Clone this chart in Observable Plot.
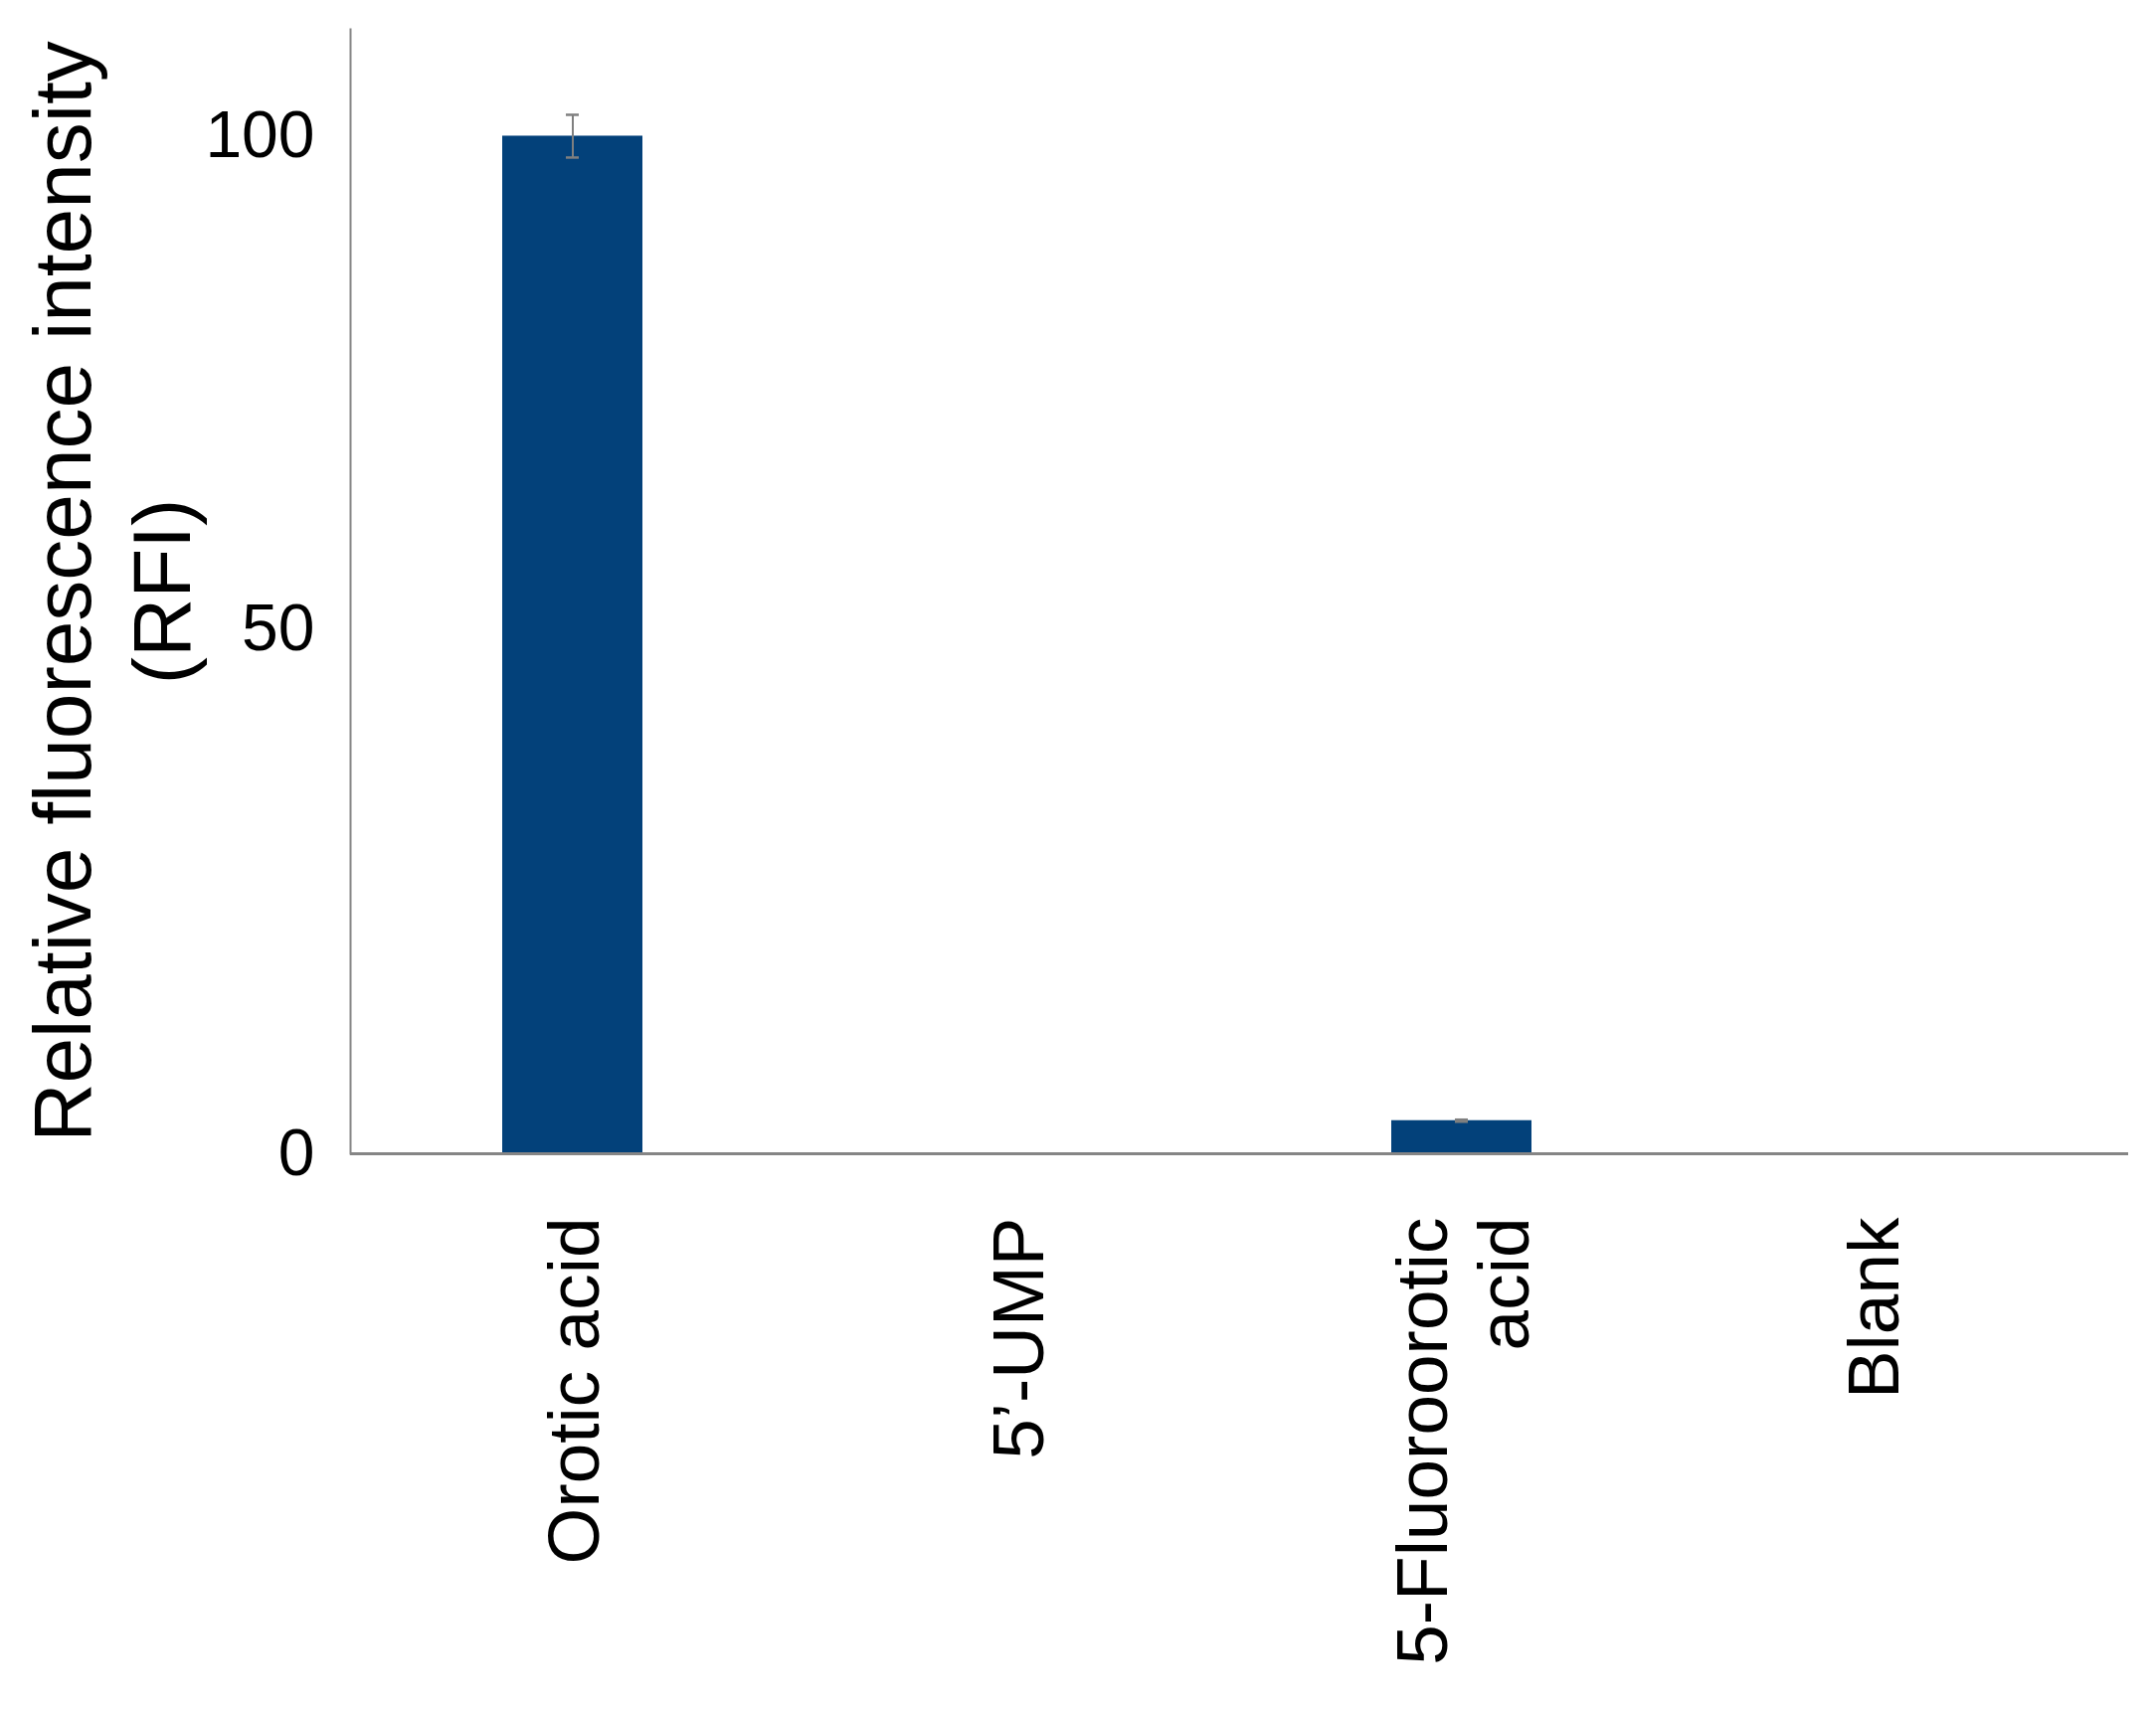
<!DOCTYPE html>
<html><head><meta charset="utf-8">
<script src="https://cdn.jsdelivr.net/npm/d3@7"></script>
<script src="https://cdn.jsdelivr.net/npm/@observablehq/plot@0.6"></script>
<style>body{margin:0;background:#fff}</style>
</head><body><div id="chart"></div>
<script>
const categories = ["Orotic acid", "5’-UMP", "5-Fluoroorotic acid", "Blank"];
const tickLabels = ["Orotic acid", "5’-UMP", "5-Fluoroorotic\nacid", "Blank"];
const values = [100, 0, 3.25, 0];
const errors = [2.1, 0, 0.1, 0];
const yTicks = [0, 50, 100];
const yTitle = "Relative fluorescence intensity\n(RFI)";

const data = categories.map((c, i) => ({category: c, value: values[i], err: errors[i]}));
const errData = data.filter(d => d.err > 0);
const fmtX = d => tickLabels[categories.indexOf(d)];
const axisXOpts = {tickSize: 0, tickPadding: 64, tickRotate: -90, fontSize: 73, label: null, lineHeight: 1.12, tickFormat: fmtX};
const axisYOpts = {tickSize: 0, tickPadding: 36, fontSize: 66, label: null, tickFormat: d => String(d)};

const plot = Plot.plot({
  width: 2168, height: 1720,
  marginLeft: 352, marginRight: 28, marginTop: 29, marginBottom: 560,
  style: {fontFamily: "'Liberation Sans', Arial, sans-serif", background: "#fff", color: "#000"},
  x: {domain: categories, paddingInner: 0.685, paddingOuter: 0.3425, align: 0.5},
  y: {domain: [0, 110.5]},
  marks: [
    Plot.barY(data, {x: "category", y: "value", fill: "#03417a"}),
    Plot.ruleX(errData, {x: "category", y1: d => d.value - d.err, y2: d => d.value + d.err, stroke: "#7f7f7f", strokeWidth: 2}),
    Plot.tickY(errData, {x: "category", y: d => d.value + d.err, stroke: "#7f7f7f", strokeWidth: 2.5, insetLeft: 64, insetRight: 64}),
    Plot.tickY(errData, {x: "category", y: d => d.value - d.err, stroke: "#7f7f7f", strokeWidth: 2.5, insetLeft: 64, insetRight: 64}),
    Plot.ruleY([0], {stroke: "#858585", strokeWidth: 3}),
    Plot.frame({anchor: "left", stroke: "#858585", strokeWidth: 2}),
    Plot.axisY({...axisYOpts, ticks: [yTicks[0], yTicks[2]]}),
    Plot.axisY({...axisYOpts, ticks: [yTicks[1]], dy: -16}),
    Plot.axisX({...axisXOpts, ticks: categories.slice(0, 3)}),
    Plot.axisX({...axisXOpts, ticks: categories.slice(3), dx: -34}),
    Plot.text([yTitle], {frameAnchor: "left", dx: -244, rotate: -90, fontSize: 82, textAnchor: "middle", lineAnchor: "middle", lineHeight: 1.22, text: d => d, fill: "#000"})
  ]
});
document.getElementById("chart").appendChild(plot);
</script>
</body></html>
